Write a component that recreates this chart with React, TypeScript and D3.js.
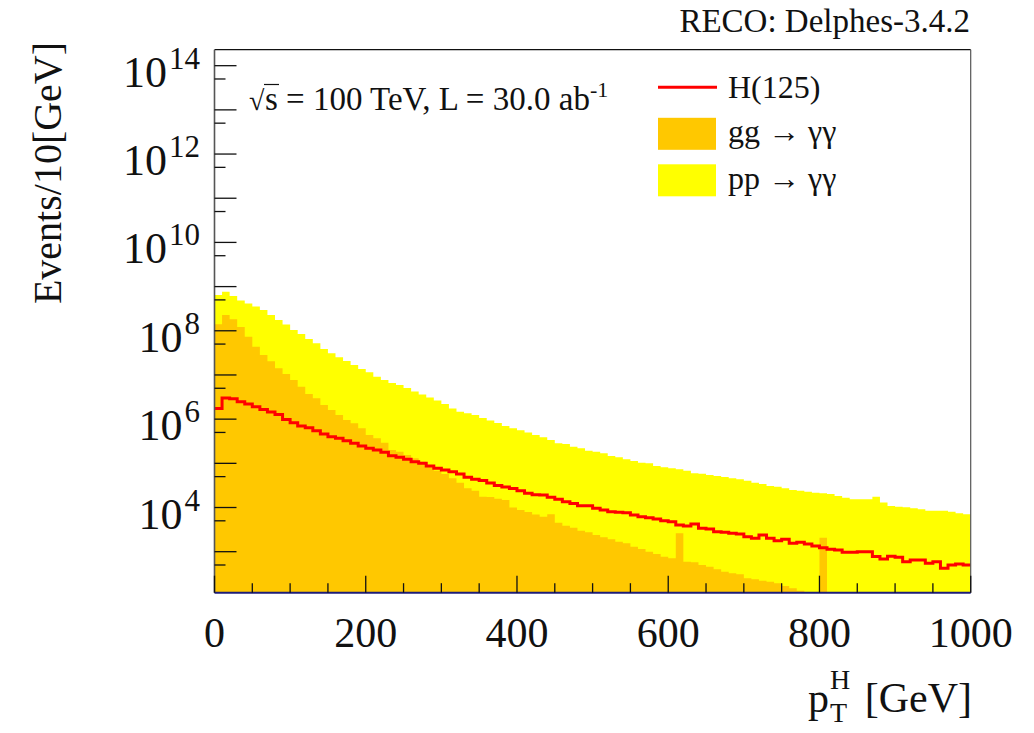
import React from 'react';
import * as d3 from 'd3';

// p_T^H histograms, 10 GeV bins from 0 to 1000 GeV (events per bin)
const binWidth = 10;

const ppGammaGamma = [
  6.46e8, 7.67e8, 6.12e8, 4.84e8, 4.14e8, 3.55e8, 2.95e8, 2.28e8, 1.75e8, 1.39e8,
  1.04e8, 8.46e7, 6.52e7, 5.21e7, 3.87e7, 3.09e7, 2.51e7, 2.07e7, 1.68e7, 1.36e7,
  1.15e7, 9.14e6, 7.69e6, 6.58e6, 5.93e6, 5.07e6, 4.23e6, 3.61e6, 3.09e6, 2.64e6,
  2.2e6, 1.74e6, 1.47e6, 1.36e6, 1.24e6, 1.06e6, 9.31e5, 8.18e5, 7.0e5, 6.21e5,
  5.59e5, 4.99e5, 4.38e5, 3.88e5, 3.37e5, 2.84e5, 2.74e5, 2.38e5, 2.19e5, 1.93e5,
  1.83e5, 1.69e5, 1.47e5, 1.37e5, 1.23e5, 1.13e5, 1.03e5, 1.0e5, 8.69e4, 8.13e4,
  7.71e4, 7.33e4, 6.81e4, 5.94e4, 5.8e4, 5.44e4, 5.16e4, 4.9e4, 4.58e4, 4.35e4,
  4.05e4, 3.64e4, 3.4e4, 3.07e4, 2.96e4, 2.72e4, 2.49e4, 2.4e4, 2.28e4, 2.16e4,
  2.09e4, 2.02e4, 1.82e4, 1.67e4, 1.53e4, 1.53e4, 1.53e4, 1.75e4, 1.29e4, 1.08e4,
  1.04e4, 1.01e4, 9.6e3, 9.1e3, 8.47e3, 8.47e3, 8.47e3, 8.04e3, 7.39e3, 7.02e3,
];

const ggGammaGamma = [
  1.4e8, 2.28e8, 1.82e8, 1.22e8, 7.35e7, 4.36e7, 2.83e7, 2.04e7, 1.42e7, 1.05e7,
  7.69e6, 5.42e6, 3.71e6, 2.96e6, 2.09e6, 1.61e6, 1.24e6, 9.57e5, 8.05e5, 6.21e5,
  4.38e5, 3.68e5, 2.93e5, 2.0e5, 1.83e5, 1.54e5, 1.3e5, 1.09e5, 8.69e4, 6.81e4,
  5.73e4, 4.58e4, 3.64e4, 2.72e4, 2.4e4, 1.75e4, 1.73e4, 1.57e4, 1.48e4, 1.0e4,
  8.77e3, 7.91e3, 6.95e3, 6.19e3, 7.02e3, 4.53e3, 3.87e3, 3.49e3, 2.99e3, 2.75e3,
  2.38e3, 2.11e3, 1.91e3, 1.68e3, 1.55e3, 1.3e3, 1.15e3, 1.0e3, 886, 769,
  708, 2.61e3, 593, 575, 500, 457, 399, 352, 324, 308,
  249, 237, 220, 209, 192, 167, 148, 131, 0, 0,
  2.07e3, 0, 0, 0, 0, 0, 0, 0, 0, 0,
  0, 0, 0, 0, 0, 0, 0, 0, 0, 0,
];

const higgs125 = [
  1.74e6, 3.01e6, 2.88e6, 2.48e6, 2.2e6, 1.91e6, 1.65e6, 1.45e6, 1.27e6, 9.8e5,
  8.3e5, 7.0e5, 6.4e5, 5.47e5, 4.61e5, 4.01e5, 3.68e5, 3.25e5, 2.84e5, 2.47e5,
  2.19e5, 2.0e5, 1.78e5, 1.49e5, 1.37e5, 1.23e5, 1.09e5, 1.0e5, 8.69e4, 7.71e4,
  7.06e4, 6.46e4, 5.73e4, 4.82e4, 4.35e4, 4.08e4, 3.59e4, 3.15e4, 2.91e4, 2.69e4,
  2.39e4, 2.09e4, 1.95e4, 1.92e4, 1.7e4, 1.53e4, 1.35e4, 1.24e4, 1.1e4, 1.1e4,
  9.6e3, 8.77e3, 8.04e3, 7.78e3, 7.62e3, 6.76e3, 6.19e3, 5.87e3, 5.49e3, 5.02e3,
  4.77e3, 4.02e3, 3.81e3, 4.23e3, 3.38e3, 3.26e3, 2.83e3, 2.75e3, 2.61e3, 2.51e3,
  2.18e3, 2.01e3, 2.38e3, 2.01e3, 1.77e3, 1.91e3, 1.55e3, 1.63e3, 1.49e3, 1.35e3,
  1.23e3, 1.13e3, 1.09e3, 968, 968, 1.0e3, 1.0e3, 774, 687, 787,
  746, 593, 649, 649, 546, 593, 421, 500, 526, 500,
];

const xTicks = [0, 200, 400, 600, 800, 1000];
const yLabelExponents = [4, 6, 8, 10, 12, 14];
const yMajorExponents = [3, 4, 5, 6, 7, 8, 9, 10, 11, 12, 13, 14];
const yMinorExponents = [2, 3, 4, 5, 6, 7, 8, 9, 10, 11, 12, 13];

const legendItems = [
  { label: 'H(125)', kind: 'line', color: '#ff0000' },
  { label: 'gg \u2192 \u03b3\u03b3', kind: 'box', color: '#ffc800' },
  { label: 'pp \u2192 \u03b3\u03b3', kind: 'box', color: '#ffff00' },
];

const W = 1034;
const H = 733;
const left = 214.5;
const right = 970.7;
const top = 49.7;
const bottom = 592.7;
const serif = '"Liberation Serif", "Times New Roman", serif';

type Pt = [number, number];

export default function App() {
  const x = d3.scaleLinear().domain([0, 1000]).range([left, right]);
  const y = d3.scaleLog().domain([118, 2.3e14]).range([bottom, top]);

  const yc = (v: number) => (v > 0 ? Math.min(bottom, y(v)) : bottom);
  const steps = (vals: number[]): Pt[] =>
    vals.flatMap((v, i) => [[i * binWidth, v], [(i + 1) * binWidth, v]] as Pt[]);

  const area = d3.area<Pt>().x(d => x(d[0])).y0(bottom).y1(d => yc(d[1]));
  const line = d3.line<Pt>().x(d => x(d[0])).y(d => yc(d[1]));

  const xMinor = d3.range(0, 1001, 50).filter(v => v % 200 !== 0);

  return (
    <div style={{ position: 'absolute', left: 0, top: 0 }}>
      <svg width={W} height={H} style={{ display: 'block', background: '#fff' }} fontFamily={serif}>
        <defs>
          <clipPath id="plot">
            <rect x={left} y={top} width={right - left} height={bottom - top} />
          </clipPath>
        </defs>

        <g clipPath="url(#plot)">
          <path d={area(steps(ppGammaGamma)) ?? ''} fill="#ffff00" />
          <path d={area(steps(ggGammaGamma)) ?? ''} fill="#ffc800" />
          <path d={line(steps(higgs125)) ?? ''} fill="none" stroke="#ff0000" strokeWidth={3} />
        </g>

        {/* frame */}
        <line x1={left} x2={right} y1={top} y2={top} stroke="#111" strokeWidth={1.2} />
        <line x1={right} x2={right} y1={top} y2={bottom} stroke="#555" strokeWidth={1.2} />
        <line x1={left} x2={left} y1={top} y2={bottom} stroke="#555" strokeWidth={1.6} />
        <line x1={left} x2={right} y1={bottom} y2={bottom} stroke="#1e1e78" strokeWidth={2} />

        {/* y ticks */}
        {yMajorExponents.map(e => (
          <line key={'M' + e} x1={left} x2={left + 22} y1={y(10 ** e)} y2={y(10 ** e)} stroke="#111" strokeWidth={1.3} />
        ))}
        {yMinorExponents.map(e => (
          <line key={'m' + e} x1={left} x2={left + 11} y1={y(5 * 10 ** e)} y2={y(5 * 10 ** e)} stroke="#111" strokeWidth={1.3} />
        ))}
        {yLabelExponents.map(e => (
          <text key={'l' + e} x={200} y={y(10 ** e) + 21} textAnchor="end" fontSize={44} fill="#111">
            10<tspan fontSize={31} dx={2} dy={-18}>{e}</tspan>
          </text>
        ))}

        {/* x ticks */}
        {xTicks.map(t => (
          <g key={'x' + t}>
            <line x1={x(t)} x2={x(t)} y1={bottom} y2={bottom - 17} stroke="#111" strokeWidth={1.3} />
            <text x={x(t)} y={647} textAnchor="middle" fontSize={42} fill="#111">{t}</text>
          </g>
        ))}
        {xMinor.map(t => (
          <line key={'xm' + t} x1={x(t)} x2={x(t)} y1={bottom} y2={bottom - 9.5} stroke="#111" strokeWidth={1.3} />
        ))}

        {/* axis titles */}
        <text transform="translate(61,173) rotate(-90)" textAnchor="middle" fontSize={40} fill="#111">
          Events/10[GeV]
        </text>
        <text x={808} y={712} fontSize={42} fill="#111">p</text>
        <text x={830} y={689} fontSize={28} fill="#111">H</text>
        <text x={830} y={722} fontSize={28} fill="#111">T</text>
        <text x={972} y={712} textAnchor="end" fontSize={42} fill="#111">[GeV]</text>

        {/* header */}
        <text x={970} y={32} textAnchor="end" fontSize={33} fill="#111">RECO: Delphes-3.4.2</text>

        {/* energy / luminosity */}
        <text x={249} y={110} fontSize={28} fill="#111">{'\u221a'}</text>
        <line x1={264} x2={279} y1={84.5} y2={84.5} stroke="#111" strokeWidth={1.2} />
        <text x={265} y={110} fontSize={33} fill="#111">
          s = 100 TeV, L = 30.0 ab<tspan fontSize={22} dy={-13}>-1</tspan>
        </text>

        {/* legend */}
        {legendItems.map((it, i) => {
          const cy = 87.3 + i * 46.5;
          return (
            <g key={it.label}>
              {it.kind === 'line' ? (
                <line x1={658} x2={717} y1={cy} y2={cy} stroke={it.color} strokeWidth={3} />
              ) : (
                <rect x={658} y={cy - 16} width={58} height={32} fill={it.color} />
              )}
              <text x={728} y={cy + (i === 0 ? 11 : 8.5)} fontSize={32} fill="#111">{it.label}</text>
            </g>
          );
        })}
      </svg>
    </div>
  );
}
